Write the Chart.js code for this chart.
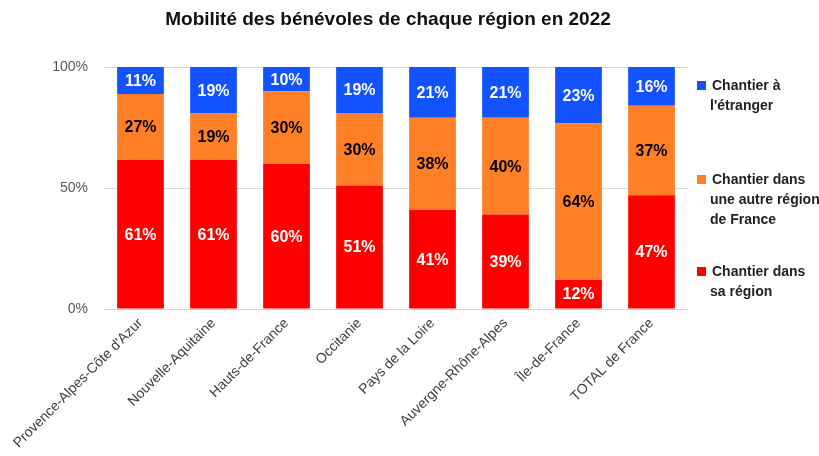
<!DOCTYPE html>
<html>
<head>
<meta charset="utf-8">
<script src="https://cdn.jsdelivr.net/npm/chart.js@4"></script>
<style>
  html, body { margin: 0; padding: 0; background: #fff; }
  #box { width: 819px; height: 456px; position: relative; }
</style>
</head>
<body>
<div id="box"><canvas id="grafica"></canvas></div>
<script>
const titre = "Mobilité des bénévoles de chaque région en 2022";
const regions = ["Provence-Alpes-Côte d'Azur", "Nouvelle-Aquitaine", "Hauts-de-France", "Occitanie",
    "Pays de la Loire", "Auvergne-Rhône-Alpes", "Île-de-France", "TOTAL de France"];
const saRegion = [61, 61, 60, 51, 41, 39, 12, 47];
const autreRegion = [27, 19, 30, 30, 38, 40, 64, 37];
const etranger = [11, 19, 10, 19, 21, 21, 23, 16];
const ticksY = [0, 50, 100];

const ROUGE = "#FF0000";
const ORANGE = "#FF7F27";
const BLEU = "#1252FF";

// 100% empile : on ramene chaque colonne a 100
const totaux = regions.map((r, i) => saRegion[i] + autreRegion[i] + etranger[i]);
const enPct = (arr) => arr.map((v, i) => v / totaux[i] * 100);

const legende = [
    { couleur: BLEU, lignes: ["Chantier à", "l'étranger"], y: 96 },
    { couleur: ORANGE, lignes: ["Chantier dans", "une autre région", "de France"], y: 200 },
    { couleur: ROUGE, lignes: ["Chantier dans", "sa région"], y: 282 },
];

const pluginDessin = {
    id: "dessin",
    afterDatasetsDraw(chart) {
        const ctx = chart.ctx;
        ctx.save();
        ctx.textAlign = "center";
        ctx.textBaseline = "middle";
        ctx.font = "bold 16px 'Liberation Sans', Arial, sans-serif";
        chart.data.datasets.forEach((ds, d) => {
            const meta = chart.getDatasetMeta(d);
            meta.data.forEach((bar, i) => {
                const milieu = (bar.y + bar.base) / 2;
                ctx.fillStyle = ds.couleurTexte;
                ctx.fillText(ds.brut[i] + "%", bar.x, milieu + 1);
            });
        });
        ctx.restore();
    },
    afterDraw(chart) {
        const ctx = chart.ctx;
        ctx.save();
        // titre
        ctx.fillStyle = "#111";
        ctx.font = "bold 19px 'Liberation Sans', Arial, sans-serif";
        ctx.textAlign = "center";
        ctx.textBaseline = "middle";
        ctx.fillText(titre, 388, 20);
        // legende
        ctx.font = "bold 14px 'Liberation Sans', Arial, sans-serif";
        ctx.textAlign = "left";
        legende.forEach((item) => {
            const h = (item.lignes.length - 1) * 20;
            const y0 = item.y - h / 2;
            ctx.fillStyle = item.couleur;
            ctx.fillRect(697, y0 - 5, 9, 9);
            ctx.fillStyle = "#222";
            item.lignes.forEach((l, k) => {
                ctx.fillText(l, k == 0 ? 712 : 710, y0 + k * 20);
            });
        });
        ctx.restore();
    }
};

const contexto = document.getElementById("grafica").getContext("2d");
const grafico = new Chart(contexto, {
    type: "bar",
    data: {
        labels: regions,
        datasets: [{
            label: "Chantier dans sa région",
            data: enPct(saRegion),
            brut: saRegion,
            couleurTexte: "#fff",
            backgroundColor: ROUGE,
        }, {
            label: "Chantier dans une autre région de France",
            data: enPct(autreRegion),
            brut: autreRegion,
            couleurTexte: "#000",
            backgroundColor: ORANGE,
        }, {
            label: "Chantier à l'étranger",
            data: enPct(etranger),
            brut: etranger,
            couleurTexte: "#fff",
            backgroundColor: BLEU,
        }],
    },
    options: {
        responsive: true,
        maintainAspectRatio: false,
        animation: false,
        layout: { padding: { top: 67, right: 131, left: 0, bottom: 0 } },
        datasets: { bar: { barPercentage: 0.64, categoryPercentage: 1 } },
        plugins: {
            legend: { display: false },
            title: { display: false },
            tooltip: { enabled: false },
        },
        scales: {
            x: {
                stacked: true,
                grid: { display: false, drawTicks: false },
                border: { display: true, color: "#d9d9d9" },
                ticks: {
                    minRotation: 45,
                    maxRotation: 45,
                    padding: 6,
                    color: "#404040",
                    font: { family: "'Liberation Sans', Arial, sans-serif", size: 14 },
                },
                afterFit(axis) { axis.height = 147; },
            },
            y: {
                stacked: true,
                min: 0,
                max: 100,
                afterBuildTicks(axis) { axis.ticks = ticksY.map((v) => ({ value: v })); },
                grid: { color: "#d9d9d9", drawTicks: false },
                border: { display: false },
                ticks: {
                    padding: 16,
                    color: "#595959",
                    font: { family: "'Liberation Sans', Arial, sans-serif", size: 14 },
                    callback: (v) => v + "%",
                },
                afterFit(axis) { axis.width = 104; },
            },
        },
    },
    plugins: [pluginDessin],
});
</script>
</body>
</html>
